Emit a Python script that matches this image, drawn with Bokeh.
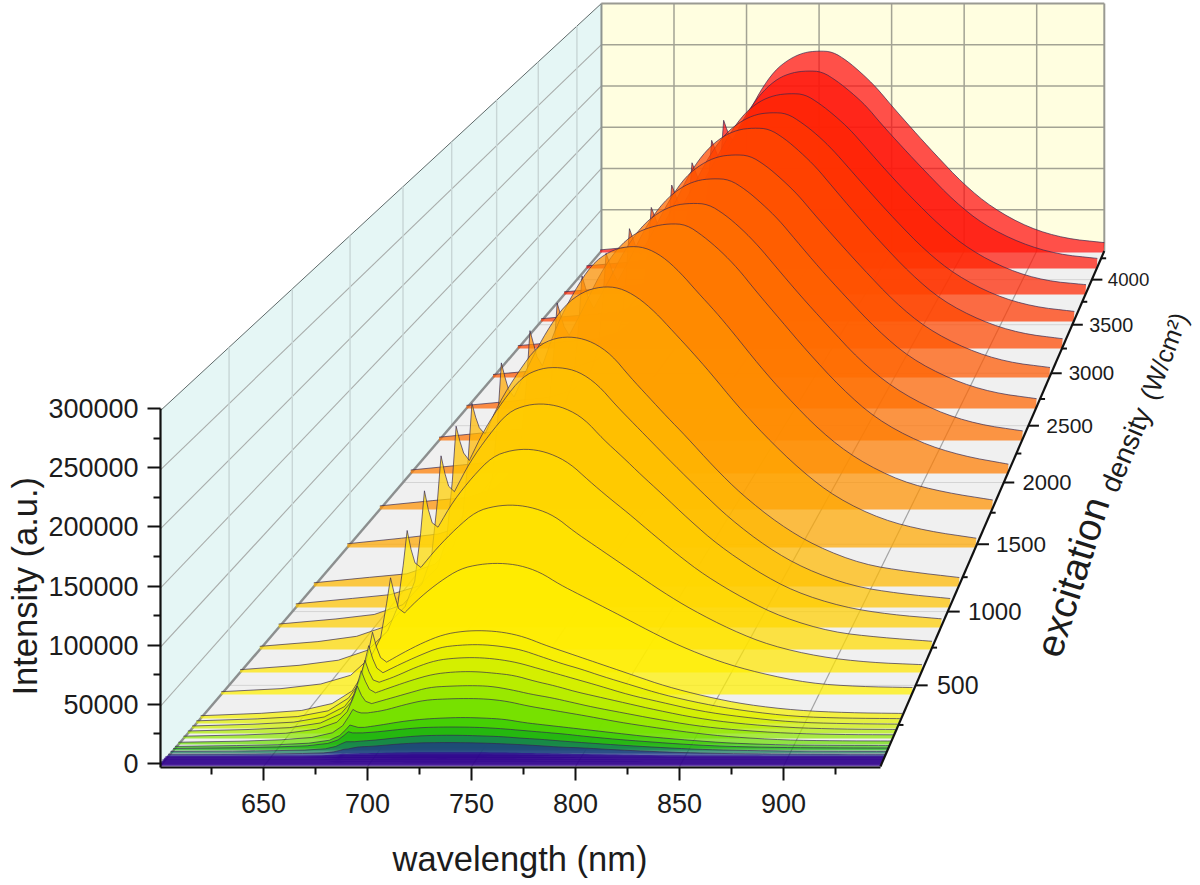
import numpy as np
from bokeh.plotting import figure
from bokeh.models import LinearAxis, FixedTicker, Range1d, Label, Title
from bokeh.core.properties import value
from bokeh.embed import file_html
from bokeh.resources import INLINE

# ---------- data ----------
wavelength = [600,630,650,665,675,680,683,685,687,689,692,700,710,720,730,740,750,760,770,780,790,800,815,830,850,870,895,920,947]
# excitation density (W/cm2) of each spectrum, back to front
density = [4319,4130,3831,3535,3250,2958,2660,2366,2077,1776,1475,1181,1029,888,737,584,441,
           290,259,228,198,167,131,107,95,77,60,50,40,30,20,10,0]
# intensity in thousands of counts
s4319=[3.2,8,11,19,35,61,112,160,150,141,135,161,195,220,234,242,244,243,232,217,200,179,149,120,83,54,30,17,12]
s4130=[3.1,7.6,11,18,34,58,107,153,144,135,130,156,189,212,227,234,236,235,224,210,194,173,144,116,80,52,30,17,12]
s3831=[3.1,7.7,11,18,34,59,108,154,145,136,130,155,188,212,226,233,235,234,223,209,193,173,143,115,80,52,29,16,11.5]
s3535=[3.1,7.8,11,19,34,59,109,156,147,137,132,158,191,215,229,237,239,238,227,213,196,176,146,117,81,53,30,17,11.5]
s3250=[3.2,7.9,11,19,35,60,111,158,149,139,136,163,198,222,237,245,247,246,235,220,203,182,151,121,84,54,31,17,11]
s2958=[3.3,8.2,11,20,36,62,114,163,153,143,135,161,195,220,234,242,244,243,232,217,200,179,149,120,83,54,31,17,11]
s2660=[3.3,8.3,12,20,37,63,116,166,156,146,136,162,197,221,236,244,246,245,234,219,202,181,150,121,84,54,31,17,10.5]
s2366=[3.4,8.6,12,21,38,65,120,172,160,148,138,164,198,223,238,246,248,247,236,221,203,182,151,122,84,55,31,17,10]
s2077=[3.5,8.7,12,21,38,66,122,174,162,150,141,168,204,230,245,252,255,254,242,227,209,187,156,125,87,56,32,18,9.5]
s1776=[3.6,8.9,12,21,39,68,125,178,165,152,143,183,217,244,257,262,261,252,236,216,197,176,143,113,77,50,28,17,9.5]
s1475=[3.6,9,13,21,39,68,125,179,165,153,146,177,210,235,248,253,252,243,228,209,190,170,138,109,75,48,27,16,9]
s1181=[3.5,8.7,12,21,38,66,121,173,160,150,144,175,203,227,235,236,231,219,198,179,160,142,113,87,59,38,21,14,8.5]
s1029=[3.4,8.5,12,20,37,64,118,169,155,144,137,166,193,215,223,224,220,208,188,170,152,134,108,83,56,36,20,13,8.4]
s0888=[3.2,7.9,12,21,40,65,114,158,142,130,125,152,177,198,205,206,202,192,173,157,140,124,99,76,52,33,19,12,8]
s0737=[2.9,7.2,12,21,39,62,105,144,127,115,111,135,157,175,181,182,178,169,153,138,124,109,87,67,46,29,16,11,7.5]
s0584=[2.5,6.4,11,20,37,58,96,127,110,98,94,111,129,144,149,150,147,140,126,114,102,90,72,56,38,24,14,9,7]
s0441=[2.5,5.2,9.3,17,33,50,80,103,88,76,72,86,100,111,115,116,114,108,97,88,79,70,56,43,29,19,10,7,6.2]
s0290=[2.4,4.5,7,13,24,38,58,75,62,53,49,57,66,73,76,76.5,75,71,64,58,52,46,37,28,19,12,7,5,4.4]
s0259=[2.3,4,6,11,22,34,53,67.5,56,48,44,51,59,66,68,68.5,67,64,58,52,47,41,33,25,17,11,6,4.6,4.2]
s0228=[2.2,3.7,5.5,10,19,30,46,59,49,42,40,45,53,59,61,61.4,60,57,52,47,42,37,29,23,15,10,5.5,4.2,3.8]
s0198=[2.1,3.4,5,9,17,27,42,54,45,38,35,40,46,51,53,53.4,52,50,45,41,36,32,26,20,13,8.5,5,3.7,3.4]
s0167=[2,3.1,4.5,8,14,23,35,45,37,32,30,34,39,44,45,45.5,45,42,38,35,31,27,22,17,11,7.3,4.5,3.4,3.2]
s0131=[1.9,2.8,4,6,10,16,24,30,28,27,27,29,34,38,39,39.4,39,37,33,30,27,24,19,15,10,6.3,3.8,3.1,3]
s0107=[1.8,2.5,3.2,4.5,7,11,16,20,19,18,18,20,23,25,26,26.5,26,25,22,20,18,16,13,10,7,4.5,3,2.7,2.6]
s0095=[1.7,2.3,3,4,6,9,13,16,15,15,15,16,18,19.5,20,20,19.6,18.5,17,15.5,14,12,9.5,7.5,5,3.4,2.5,2.2,2.1]
s0077=[1.8,2,2.4,2.9,4,6,8.5,10,10,10,10.5,11.5,13.5,15,15.5,15.5,15,14.4,13,12,10.5,9.2,7.4,5.8,3.9,2.8,2.1,1.9,1.8]
s0060=[1.8,1.9,2.1,2.4,2.9,3.8,5,6,6.3,7,8,8.7,10.3,11.4,11.7,11.7,11.4,10.8,10,9,7.8,7.2,5.7,4.4,3.1,2.3,2,1.9,1.8]
s0050=[2,2,2.1,2.2,2.4,2.7,3.2,3.6,3.5,3.6,3.9,4.2,4.6,4.9,5,5,4.9,4.7,4.4,4.1,3.7,3.4,3,2.6,2.2,2.1,2,2,2]
s0040=[3,3,3,3,3.1,3.3,3.6,3.9,3.8,3.8,3.9,4.1,4.4,4.6,4.7,4.7,4.6,4.5,4.3,4,3.8,3.6,3.3,3.1,3,3,3,3,3]
s0030=[3.2,3.2,3.2,3.2,3.3,3.5,3.8,4.3,4,3.9,3.9,4,4.2,4.3,4.4,4.4,4.3,4.2,4.1,3.9,3.7,3.6,3.4,3.3,3.2,3.2,3.2,3.2,3.2]
s0020=[3.2,3.2,3.2,3.2,3.3,3.4,3.6,3.9,3.7,3.6,3.6,3.7,3.8,3.9,4,4,3.9,3.9,3.8,3.7,3.6,3.5,3.4,3.3,3.2,3.2,3.2,3.2,3.2]
s0010=[3,3,3,3,3,3.1,3.2,3.4,3.3,3.2,3.2,3.3,3.4,3.5,3.5,3.5,3.5,3.4,3.4,3.3,3.3,3.2,3.2,3.1,3,3,3,3,3]
s0000=[3,3,3,3,3,3,3,3.1,3.1,3,3,3,3,3.1,3.1,3.1,3.1,3,3,3,3,3,3,3,3,3,3,3,3]
spectra = [s4319,s4130,s3831,s3535,s3250,s2958,s2660,s2366,s2077,s1776,s1475,s1181,s1029,s0888,s0737,s0584,s0441,
           s0290,s0259,s0228,s0198,s0167,s0131,s0107,s0095,s0077,s0060,s0050,s0040,s0030,s0020,s0010,s0000]

wl_ticks = [650,700,750,800,850,900]
wl_minor = [625,675,725,775,825,875,925]
int_ticks = [0,50000,100000,150000,200000,250000,300000]
int_minor = [25000,75000,125000,175000,225000,275000]
dens_ticks = [500,1000,1500,2000,2500,3000,3500,4000]
dens_minor = [250,750,1250,1750,2250,2750,3250,3750,4250]
dens_label_size = [25,24,22.5,22,21,20.5,19.8,18.7]

# colour map, density -> colour
cmap_d = [0,50,62,77,95,107,131,167,198,228,259,290,441,700,1029,1500,2077,3000,3800,4319]
cmap_r = [48,45,30,20,25,50,105,140,175,205,225,245,255,255,255,255,255,255,255,255]
cmap_g = [0,5,60,120,175,200,222,230,235,238,240,240,240,222,195,165,125,85,40,12]
cmap_b = [140,140,135,90,20,5,0,0,0,0,0,0,0,0,0,0,0,0,0,14]

# ---------- perspective of the waterfall ----------
WL_MIN, WL_MAX, D_MAX, I_MAX = 600.0, 946.6, 4337.0, 300000.0
PX_NM = 2.08                 # screen px per nm on the front plane
CNT_PX = 300000/355          # counts per screen px on the front plane
WL_V = 600 + (1620-159)/PX_NM   # vanishing point
I_V = (763+938)*CNT_PX
I_FLOOR = -3*CNT_PX

def project(wl, d, i):
    s = 1/(1 + np.asarray(d, dtype=float)/10000)
    return WL_V + (np.asarray(wl, dtype=float)-WL_V)*s, I_V + (I_FLOOR + np.asarray(i, dtype=float) - I_V)*s

def colour(d):
    return "#%02x%02x%02x" % tuple(int(round(np.interp(d, cmap_d, c))) for c in (cmap_r, cmap_g, cmap_b))

def chaikin(x, y, start, n=2):
    """Round the drawn outline of the broad band (display only); the narrow line stays as read."""
    x, y = np.asarray(x), np.asarray(y)
    hx, hy = x[:start], y[:start]
    tx, ty = x[start:], y[start:]
    for _ in range(n):
        qx = 0.75*tx[:-1]+0.25*tx[1:]; rx = 0.25*tx[:-1]+0.75*tx[1:]
        qy = 0.75*ty[:-1]+0.25*ty[1:]; ry = 0.25*ty[:-1]+0.75*ty[1:]
        nx = np.empty(2*len(qx)+2); ny = np.empty(2*len(qx)+2)
        nx[0], ny[0] = tx[0], ty[0]; nx[-1], ny[-1] = tx[-1], ty[-1]
        nx[1:-1:2], ny[1:-1:2] = qx, qy
        nx[2:-1:2], ny[2:-1:2] = rx, ry
        tx, ty = nx, ny
    return np.concatenate([hx, tx]), np.concatenate([hy, ty])

W, H = 1200, 885
p = figure(width=W, height=H, output_backend="svg", toolbar_location=None,
           x_axis_type=None, y_axis_type=None,
           x_range=Range1d(600+(160-159)/PX_NM, 600+(1200-159)/PX_NM),
           y_range=Range1d((763-767)*CNT_PX, 763*CNT_PX),
           min_border_left=160, min_border_right=0, min_border_top=0, min_border_bottom=118,
           background_fill_alpha=0, border_fill_color="white")
p.outline_line_color = None

FONT = "Liberation Sans"
TXT = "#1c1c1c"

def page(x, y):
    """page pixel -> data coordinates, for placing titles"""
    return 600+(x-159)/PX_NM, (763-y)*CNT_PX

# walls and floor
def poly(pts, **kw):
    xs, ys = zip(*[project(*q) for q in pts])
    p.patch(list(map(float, xs)), list(map(float, ys)), **kw)
poly([(WL_MIN,0,0),(WL_MIN,0,I_MAX),(WL_MIN,D_MAX,I_MAX),(WL_MIN,D_MAX,0)], fill_color="#e5f6f5", line_color=None)
poly([(WL_MIN,D_MAX,0),(WL_MIN,D_MAX,I_MAX),(WL_MAX,D_MAX,I_MAX),(WL_MAX,D_MAX,0)], fill_color="#fffee0", line_color=None)
poly([(WL_MIN,0,0),(WL_MAX,0,0),(WL_MAX,D_MAX,0),(WL_MIN,D_MAX,0)], fill_color="#f0f0f0", line_color=None)

def seg(a, b, **kw):
    x0, y0 = project(*a); x1, y1 = project(*b)
    p.line([float(x0), float(x1)], [float(y0), float(y1)], **kw)

wall_grid = dict(line_color="#a9adab", line_width=1.1)
for i in int_ticks[1:-1]:
    seg((WL_MIN,0,i),(WL_MIN,D_MAX,i), **wall_grid)
    seg((WL_MIN,D_MAX,i),(WL_MAX,D_MAX,i), line_color="#a3a394", line_width=1.5)
seg((WL_MIN,0,I_MAX),(WL_MIN,D_MAX,I_MAX), line_color="#5f6a6a", line_width=1)
for d in dens_ticks:
    seg((WL_MIN,d,0),(WL_MIN,d,I_MAX), line_color="#c8d6d6", line_width=1.4)
    seg((WL_MIN,d,0),(WL_MAX,d,0), line_color="#d4d4d4", line_width=1)
for w in wl_ticks:
    seg((w,D_MAX,0),(w,D_MAX,I_MAX), line_color="#a3a394", line_width=1.5)
    seg((w,0,0),(w,D_MAX,0), line_color="#a4a4a4", line_width=1.2)
# back wall frame and floor edge
seg((WL_MIN,D_MAX,0),(WL_MIN,D_MAX,I_MAX), line_color="#8e9490", line_width=2)
seg((WL_MIN,D_MAX,I_MAX),(WL_MAX,D_MAX,I_MAX), line_color="#9a9a92", line_width=2)
seg((WL_MAX,D_MAX,0),(WL_MAX,D_MAX,I_MAX), line_color="#9a9a92", line_width=2)
seg((WL_MIN,0,0),(WL_MIN,D_MAX,0), line_color="#8c8f8f", line_width=2.4)

# spectra, back to front
wl = np.array(wavelength, dtype=float)
first_broad = wavelength.index(692)
for d, sp in zip(density, spectra):
    counts = np.array(sp, dtype=float)*1000
    x, y = project(wl, d, counts)
    x, y = chaikin(x, y, first_broad)
    x0, y0 = project([WL_MAX, WL_MIN], d, [0, 0])
    p.patch(list(x)+list(x0), list(y)+list(y0), fill_color=colour(d), fill_alpha=0.72, line_color=None)
    if d >= 60:
        p.line(list(x), list(y), line_color="#33264f", line_alpha=0.68, line_width=1)

# real axes on the front plane
ax_x = LinearAxis(ticker=FixedTicker(ticks=wl_ticks, minor_ticks=wl_minor), bounds=(WL_MIN, WL_MAX))
ax_y = LinearAxis(ticker=FixedTicker(ticks=int_ticks, minor_ticks=int_minor), bounds=(I_FLOOR-CNT_PX, I_MAX))
for ax in (ax_x, ax_y):
    ax.axis_line_color = "#111111"; ax.axis_line_width = 2.2
    ax.major_tick_line_color = "#111111"; ax.major_tick_line_width = 2
    ax.minor_tick_line_color = "#111111"; ax.minor_tick_line_width = 2
    ax.major_tick_in = 0; ax.minor_tick_in = 0
    ax.major_tick_out = 13; ax.minor_tick_out = 7
    ax.major_label_text_font = FONT; ax.major_label_text_font_size = "27px"
    ax.major_label_text_color = TXT
ax_y.major_label_standoff = 9
ax_x.major_label_standoff = 13
ax_y.formatter.use_scientific = False
# a blank axis label only keeps some room between the tick labels and the title below them
ax_x.axis_label = " "
ax_x.axis_label_text_font_size = "7px"
ax_x.axis_label_standoff = 12
p.add_layout(ax_x, "below")
p.add_layout(ax_y, "left")

# axis titles, placed along the span of the front plane
p.add_layout(Title(text="wavelength (nm)", align="left", offset=232, standoff=0, text_font=FONT,
                   text_font_size="34.5px", text_color=TXT, text_font_style="normal"), "below")
p.add_layout(Title(text="Intensity (a.u.)", align="left", offset=72, standoff=4, text_font=FONT,
                   text_font_size="34.5px", text_color=TXT, text_font_style="normal"), "left")

# excitation density axis
seg((WL_MAX,0,0),(WL_MAX,D_MAX,0), line_color="#111111", line_width=2.2)
for d in dens_ticks + dens_minor:
    ln = (12 if d < 2000 else 10.5) if d in dens_ticks else 5
    x0, y0 = project(WL_MAX, d, 0)
    p.line([float(x0), float(x0)+ln/PX_NM], [float(y0), float(y0)], line_color="#111111", line_width=2)
for d, fs in zip(dens_ticks, dens_label_size):
    x0, y0 = project(WL_MAX, d, 0)
    p.text([float(x0)], [float(y0)], text=[str(d)], text_font=value(FONT), text_font_size=value(f"{fs}px"),
           text_color=TXT, text_align="left", text_baseline="middle", x_offset=fs*0.85)

# excitation density title, shrinking with depth
title_parts = ["excitation", "density", "(W/cm²)"]
title_start = [(1047,655), (1108,490), (1147,398)]
title_fs = [39, 28, 25.6]
title_ang = [72.5, 67, 69]
for t, st, fs, a in zip(title_parts, title_start, title_fs, title_ang):
    lx, ly = page(*st)
    p.add_layout(Label(x=lx, y=ly, text=t, text_font=FONT, text_font_size=f"{fs}px", text_color=TXT,
                       text_align="left", text_baseline="middle", angle=a, angle_units="deg"))

html = file_html(p, INLINE)
open("out.html", "w").write(html)
